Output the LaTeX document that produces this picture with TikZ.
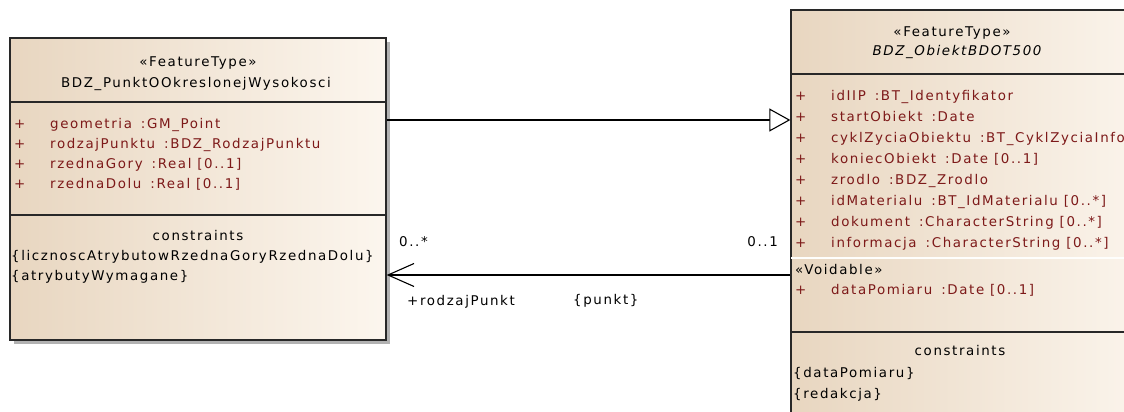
\documentclass[tikz,border=0pt]{standalone}
\usepackage{fontspec}
\setmainfont{DejaVu Sans}[LetterSpace=12]
\usetikzlibrary{arrows.meta,fit,shadows}
\definecolor{attr}{RGB}{125,25,25}
\definecolor{fillL}{RGB}{232,214,192}
\definecolor{fillR}{RGB}{252,246,238}
\definecolor{edge}{RGB}{40,40,40}
\newcommand{\gap}{\hspace{9pt}}
\begin{document}
\begin{tikzpicture}[x=1pt,y=-1pt,
  txt/.style={font=\fontsize{13.4}{15}\selectfont, inner sep=0pt, text height=9.5pt, text depth=2.7pt},
  umlbox/.style={draw=edge, line width=1.3pt, inner sep=0pt, left color=fillL, right color=fillR,
     general shadow={fill=black!30, shadow xshift=4pt, shadow yshift=-4pt}},
  attrtxt/.style={txt, anchor=west, text=attr},
  plaintxt/.style={txt, anchor=west},
  ctrtxt/.style={txt, anchor=center},
  sepline/.style={draw=edge, line width=1.3pt},
  conn/.style={draw=black, line width=1.1pt}]
\useasboundingbox (0,0) rectangle (1124,412);
\clip (0,0) rectangle (1124,412);
\fill[white] (0,0) rectangle (1124,412);
% left class
\coordinate (Lnw) at (10,38);
\coordinate (Lse) at (386,340);
\node[umlbox, fit=(Lnw)(Lse)] (L) {};
\coordinate (Lh) at (0,102);
\coordinate (Lc) at (0,215);
\draw[sepline] (L.west |- Lh) -- (L.east |- Lh);
\draw[sepline] (L.west |- Lc) -- (L.east |- Lc);
\node[ctrtxt] (Lst) at (198,63) {«FeatureType»};
\node[ctrtxt] (Lname) at (196,84) {BDZ\_PunktOOkreslonejWysokosci};
\foreach \t [count=\i] in {geometria\gap:GM\_Point, rodzajPunktu\gap:BDZ\_RodzajPunktu, rzednaGory\gap:Real [0..1], rzednaDolu\gap:Real [0..1]}{
  \node[attrtxt] (lp\i) at (14,125+20*\i-20) {+};
  \node[attrtxt] (la\i) at (50,125+20*\i-20) {\t};
}
\node[ctrtxt] (Lcon) at (198,237) {constraints};
\node[plaintxt] (Lc1) at (11,257) {\{licznoscAtrybutowRzednaGoryRzednaDolu\}};
\node[plaintxt] (Lc2) at (11,277) {\{atrybutyWymagane\}};
% right class
\coordinate (Rnw) at (791,10);
\coordinate (Rse) at (1160,440);
\node[umlbox, fit=(Rnw)(Rse)] (R) {};
\coordinate (Rh) at (0,74);
\coordinate (Rv) at (0,258);
\coordinate (Rc) at (0,332);
\draw[sepline] (R.west |- Rh) -- (R.east |- Rh);
\draw[white!85!fillR, line width=1.6pt] ([xshift=1pt]R.west |- Rv) -- (R.east |- Rv);
\draw[sepline] (R.west |- Rc) -- (R.east |- Rc);
\node[ctrtxt] (Rst) at (952,33) {«FeatureType»};
\node[ctrtxt, font=\fontsize{13.4}{15}\selectfont\itshape] (Rname) at (957,52) {BDZ\_ObiektBDOT500};
\foreach \t [count=\i] in {idIIP\gap:BT\_Identyfikator, startObiekt\gap:Date, cyklZyciaObiektu\gap:BT\_CyklZyciaInfo, koniecObiekt\gap:Date [0..1], zrodlo\gap:BDZ\_Zrodlo, idMaterialu\gap:BT\_IdMaterialu [0..*], dokument\gap:CharacterString [0..*], informacja\gap:CharacterString [0..*]}{
  \node[attrtxt] (rp\i) at (795,97+21*\i-21) {+};
  \node[attrtxt] (ra\i) at (831,97+21*\i-21) {\t};
}
\node[plaintxt] (Rvoid) at (795,271) {«Voidable»};
\node[attrtxt] (rp9) at (795,291) {+};
\node[attrtxt] (ra9) at (831,291) {dataPomiaru\gap:Date [0..1]};
\node[ctrtxt] (Rcon) at (960,352) {constraints};
\node[plaintxt] (Rc1) at (793,374) {\{dataPomiaru\}};
\node[plaintxt] (Rc2) at (793,395) {\{redakcja\}};
% generalization
\coordinate (g) at (0,120);
\draw[conn, -{Triangle[open, length=21pt, width=23pt, fill=white, line width=1.1pt]}] (L.east |- g) -- (R.west |- g);
% association
\coordinate (a) at (0,275);
\draw[conn, -{Straight Barb[length=26pt, width=23pt, line width=1.1pt]}] (R.west |- a) -- (L.east |- a);
\node[plaintxt] (m1) at (399,243) {0..*};
\node[txt, anchor=east] (m2) at (778,243) {0..1};
\node[plaintxt] (role) at (407,302) {+rodzajPunkt};
\node[plaintxt] (cons) at (573,301) {\{punkt\}};
\end{tikzpicture}
\end{document}
